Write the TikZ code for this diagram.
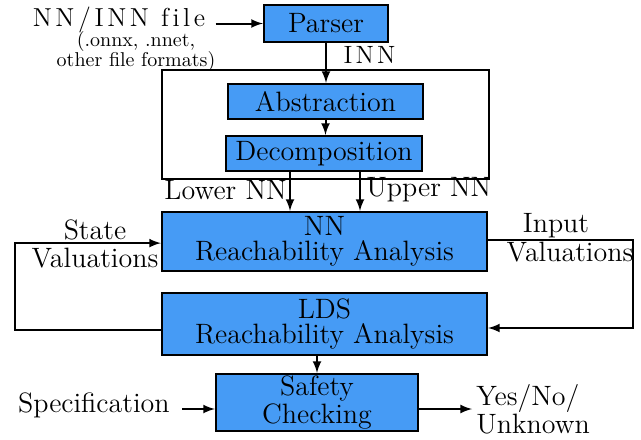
\documentclass[tikz,border=0pt]{standalone}
\usepackage{fontspec}
\usetikzlibrary{arrows,positioning}
\definecolor{boxblue}{RGB}{70,155,245}
\newcommand{\ls}{\kern1.8pt}

\begin{document}
\begin{tikzpicture}[x=0.5pt,y=-0.5pt,>=latex]
\tikzstyle{block} = [rectangle, draw=black, line width=1.1pt, fill=boxblue,
align=center, inner sep=0pt, font=\fontsize{14}{12.5}\selectfont]
\tikzstyle{frame} = [rectangle, draw=black, line width=0.9pt, inner sep=0pt]
\tikzstyle{txt} = [align=center, inner sep=0pt, font=\fontsize{14}{13}\selectfont]
\tikzstyle{small} = [align=center, inner sep=0pt, font=\fontsize{10}{10}\selectfont]
\tikzstyle{line} = [draw, line width=1pt, ->];

\useasboundingbox (0,0) rectangle (641,439);
\coordinate (lturn) at (15,0);
\coordinate (rturn) at (633,0);

% boxes
\node [frame, minimum width=163.5pt, minimum height=54.5pt] (inn) at (325.5,124.5) {};
\node [block, minimum width=62pt, minimum height=18.5pt] (parser) at (326,23.5) {Parser};
\node [block, minimum width=97.5pt, minimum height=17.5pt] (abstr) at (325.5,101.5) {Abstraction};
\node [block, minimum width=98pt, minimum height=17.5pt] (decomp) at (324,153.5) {Decomposition};
\node [block, minimum width=162.5pt, minimum height=29.5pt] (nnra) at (324.5,241.5) {NN\\Reachability Analysis};
\node [block, minimum width=162.5pt, minimum height=31pt] (ldsra) at (324.5,324) {LDS\\Reachability Analysis};
\node [block, minimum width=101pt, minimum height=28.5pt, font=\fontsize{14}{11}\selectfont] (safety) at (317,402.5) {Safety\\Checking};

% texts
\node [txt, font=\fontsize{13}{13}\selectfont] (nnfile) at (119,20) {N\ls N\ls/\ls I\ls N\ls N\ls\ f\ls i\ls l\ls e};
\node [small] (formats) at (136,51) {(.onnx, .nnet,\\other file formats)};
\node [txt, anchor=east] (lower) at (287,190) {Lower NN};
\node [txt, anchor=west] (upper) at (366,190) {Upper NN};
\node [txt] (state) at (95,230) {State};
\node [txt] (stval) at (95,258) {Valuations};
\node [txt] (input) at (556,226) {Input};
\node [txt] (inval) at (570,252) {Valuations};
\node [txt, anchor=east] (spec) at (170,405) {Specification};
\node [txt, align=left, anchor=west, font=\fontsize{14}{14}\selectfont] (out) at (476,409) {Yes/No/\\Unknown};

% connectors
\path [line, shorten <=5pt] (nnfile.east |- parser.west) -- (parser.west);
\path [line] (parser.south) -- node [pos=0.3, right=5pt, font=\fontsize{12.5}{12.5}\selectfont] {I\kern1.6pt N\kern1.6pt N} (parser.south |- abstr.north);
\path [line] (abstr.south) -- (abstr.south |- decomp.north);
\path [line] ([xshift=-17pt]decomp.south) -- ([xshift=-17pt]decomp.south |- nnra.north);
\path [line] ([xshift=18pt]decomp.south) -- ([xshift=18pt]decomp.south |- nnra.north);
\path [line] ([yshift=0.8pt]nnra.east) -- ([yshift=0.8pt]nnra.east -| rturn) |- ([yshift=-2pt]ldsra.east);
\path [line] ([yshift=-3pt]ldsra.west) -- ([yshift=-3pt]ldsra.west -| lturn) |- ([yshift=-0.8pt]nnra.west);
\path [line] (safety.north |- ldsra.south) -- (safety.north);
\path [line, shorten <=6pt] (spec.east |- out.west) -- (safety.west |- out.west);
\path [line] (safety.east |- out.west) -- ([xshift=-2pt]out.west);

\end{tikzpicture}
\end{document}
